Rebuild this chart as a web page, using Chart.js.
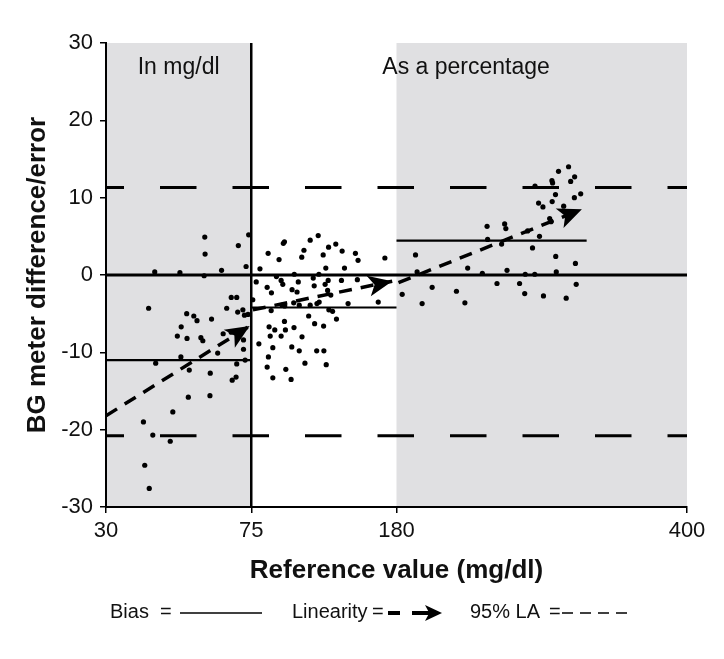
<!DOCTYPE html>
<html>
<head>
<meta charset="utf-8">
<script src="https://cdn.jsdelivr.net/npm/chart.js@4.4.1/dist/chart.umd.min.js"></script>
<style>
	html, body { margin: 0; padding: 0; background: #fff; }
	#wrap { width: 724px; height: 659px; position: relative; }
</style>
</head>
<body>
<div id="wrap"><canvas id="myChart"></canvas></div>
<script>
const FONT = "'Liberation Sans', Arial, Helvetica, sans-serif"

// x axis is piecewise: 30-75 and 75-180 take one slot each, 180-400 takes two
const tickLabels = [30, 75, 180, 400]
const tickSlots = [0, 1, 2, 4]

// reference value (mg/dl) and meter difference/error
const reference = [
	// below 75 (difference in mg/dl)
	60.6, 74.2, 71.0, 60.7, 73.4, 45.1, 52.9, 65.8, 60.4,
	43.2, 68.8, 70.5, 67.4, 72.4, 70.8, 72.9, 74.0,
	55.0, 57.2, 58.2, 62.7, 53.3, 52.1, 55.1, 59.4, 60.0,
	66.3, 68.8, 72.6, 64.6, 72.6, 53.2, 73.1, 45.4,
	55.8, 62.3, 70.5, 70.3, 69.1,
	55.5, 62.2, 50.7, 41.6, 44.5, 49.9, 42.0, 43.4,
	// 75 to 180 (percentage)
	81.3, 78.6, 80.5, 76.1, 99.0, 98.2, 117.6, 123.4, 87.2, 95.1,
	113.1, 111.5, 127.0, 130.9, 136.1, 140.7, 150.3, 152.2, 171.6, 128.9,
	142.4, 106.1, 123.9, 93.2, 96.6, 97.8, 109.0, 119.8, 120.5, 130.6,
	140.2, 151.7, 86.5, 89.6, 104.5, 108.1, 128.4, 130.2, 132.5, 97.3,
	99.2, 105.7, 109.7, 117.6, 122.5, 124.1, 145.0, 166.8, 89.4, 131.1,
	133.8, 116.5, 136.6, 99.0, 120.8, 127.3, 87.9, 92.0, 99.7, 105.9,
	88.7, 96.6, 111.7, 90.6, 104.3, 109.7, 122.3, 127.5, 87.4, 86.5,
	113.8, 129.2, 100.0, 90.6, 103.8,
	// above 180 (percentage)
	194.4, 195.6, 184.3, 199.4, 207.0, 225.4, 231.8, 233.9, 245.0, 248.6,
	249.0, 256.1, 259.6, 261.9, 262.8, 263.7, 273.2, 277.1, 277.5, 279.3,
	283.0, 284.7, 288.3, 291.3, 284.9, 287.6, 290.9, 296.0, 297.0, 297.7,
	298.2, 297.9, 300.4, 300.6, 301.0, 302.7, 306.6, 308.5, 310.3, 311.9,
	314.9, 314.7, 319.5, 315.5, 316.1,
]
const difference = [
	4.9, 5.2, 3.8, 2.7, 1.1, 0.4, 0.3, 0.6, -0.1,
	-4.3, -2.9, -2.9, -4.3, -4.5, -4.8, -5.2, -5.1,
	-5.0, -5.3, -5.9, -5.7, -6.7, -7.9, -8.2, -8.1, -8.5,
	-7.6, -7.4, -8.4, -10.1, -9.6, -10.6, -11.0, -11.4,
	-12.3, -12.7, -11.5, -13.2, -13.6,
	-15.8, -15.6, -17.7, -19.0, -20.7, -21.5, -24.6, -27.6,

	0.8, -0.9, -8.9, -3.2, 4.3, 4.1, 4.5, 5.1, 2.8, 2.0,
	3.2, 2.3, 2.6, 3.6, 4.0, 3.1, 2.8, 1.9, 2.2, 0.9,
	0.9, 0.1, 0.1, -0.2, -0.7, -1.2, -0.9, -0.4, -1.4, -0.7,
	-0.7, -0.6, -1.6, -2.3, -1.9, -2.2, -1.2, -2.0, -2.6, -3.9,
	-4.0, -3.6, -3.9, -3.9, -3.7, -3.5, -3.7, -3.5, -4.6, -4.5,
	-4.7, -5.3, -5.7, -6.0, -6.3, -6.6, -6.7, -7.1, -7.1, -6.8,
	-7.9, -7.9, -8.0, -9.4, -9.3, -9.8, -9.8, -9.8, -10.6, -11.9,
	-11.4, -11.6, -12.2, -13.3, -13.5,

	2.6, 0.4, -2.5, -3.7, -1.6, -2.1, -3.6, 0.9, 0.2, 6.3,
	4.6, -1.1, 4.0, 6.6, 6.0, 0.6, -1.1, -2.4, 0.1, 5.7,
	3.5, 0.1, 5.0, -2.7, 11.5, 9.3, 8.8, 7.3, 6.9, 12.2,
	11.9, 9.5, 10.4, 2.4, 0.4, 13.4, 8.9, -3.0, 14.0, 12.1,
	12.7, 10.0, 10.5, 1.5, -1.2,
]

// bias per range
const biasStart = [30, 75, 180]
const biasEnd = [75, 180, 324]
const biasValue = [-11.0, -4.2, 4.45]

// 95% limits of agreement
const limitsOfAgreement = [11.3, -20.8]

// linearity trend, one arrow per range
const linearityStart = [30, 76.2, 181.5]
const linearityStartValue = [-18.2, -4.5, -1.0]
const linearityEnd = [74.5, 176.9, 320.4]
const linearityEndValue = [-6.6, -0.8, 8.5]

const regionLabels = ['In mg/dl', 'As a percentage']

const toSlot = (mg) => {
	const last = tickLabels.length - 2
	for (let i = 0; i <= last; i++) {
		const a = tickLabels[i]
		const b = tickLabels[i + 1]
		if (mg <= b || i === last) {
			return tickSlots[i] + ((mg - a) / (b - a)) * (tickSlots[i + 1] - tickSlots[i])
		}
	}
}

const seg = (x0, y0, x1, y1) => [
	{ x: toSlot(x0), y: y0 },
	{ x: toSlot(x1), y: y1 },
]

const lineSet = (data, width, dash, offset) => ({
	type: 'scatter',
	data,
	showLine: true,
	borderColor: '#000',
	borderWidth: width,
	borderDash: dash || [],
	borderDashOffset: offset || 0,
	pointRadius: 0,
	pointHoverRadius: 0,
})

const datasets = [
	{
		type: 'scatter',
		data: reference.map((r, i) => ({ x: toSlot(r), y: difference[i] })),
		pointRadius: 2.6,
		pointBackgroundColor: '#000',
		pointBorderWidth: 0,
	},
	lineSet(seg(30, 0, 400, 0), 3),
	lineSet([{ x: toSlot(75), y: -30 }, { x: toSlot(75), y: 30 }], 2.5),
]
biasValue.forEach((v, i) => datasets.push(lineSet(seg(biasStart[i], v, biasEnd[i], v), 2.2)))
limitsOfAgreement.forEach((v) => datasets.push(lineSet(seg(30, v, 400, v), 3, [36.5, 36], 18.5)))
linearityStart.forEach((s, i) => {
	const d = lineSet(seg(s, linearityStartValue[i], linearityEnd[i], linearityEndValue[i]), 3.5, [13, 9])
	d.arrow = true
	datasets.push(d)
})

const drawArrowHead = (ctx, x, y, angle, len, half) => {
	ctx.save()
	ctx.translate(x, y)
	ctx.rotate(angle)
	ctx.beginPath()
	ctx.moveTo(0, 0)
	ctx.lineTo(-len, -half)
	ctx.lineTo(-len * 0.75, 0)
	ctx.lineTo(-len, half)
	ctx.closePath()
	ctx.fillStyle = '#000'
	ctx.fill()
	ctx.restore()
}

const shading = {
	id: 'shading',
	beforeDraw(chart) {
		const { ctx, chartArea, scales } = chart
		const x = scales.x
		ctx.save()
		ctx.fillStyle = '#e0e0e2'
		;[[30, 75], [180, 400]].forEach(([a, b]) => {
			const l = x.getPixelForValue(toSlot(a))
			const r = x.getPixelForValue(toSlot(b))
			ctx.fillRect(l, chartArea.top, r - l, chartArea.bottom - chartArea.top)
		})
		ctx.restore()
	},
}

const arrows = {
	id: 'arrows',
	afterDatasetsDraw(chart) {
		const { ctx } = chart
		chart.data.datasets.forEach((ds, i) => {
			if (!ds.arrow) return
			const pts = chart.getDatasetMeta(i).data
			const a = pts[pts.length - 2]
			const b = pts[pts.length - 1]
			drawArrowHead(ctx, b.x, b.y, Math.atan2(b.y - a.y, b.x - a.x), 24, 10.5)
		})
	},
}

const annotations = {
	id: 'annotations',
	afterDraw(chart) {
		const { ctx, chartArea, scales } = chart
		const x = scales.x
		ctx.save()
		ctx.fillStyle = '#111'
		ctx.font = `23px ${FONT}`
		ctx.textAlign = 'center'
		ctx.textBaseline = 'middle'
		const ty = chartArea.top + 25
		ctx.fillText(regionLabels[0], (x.getPixelForValue(toSlot(30)) + x.getPixelForValue(toSlot(75))) / 2, ty)
		ctx.fillText(regionLabels[1], (x.getPixelForValue(toSlot(75)) + x.getPixelForValue(toSlot(400))) / 2 - 3, ty)

		// legend row
		const ly = 612
		ctx.font = `20px ${FONT}`
		ctx.textAlign = 'left'
		ctx.fillText('Bias', 110, ly)
		ctx.fillText('=', 160, ly)
		ctx.fillText('Linearity', 292, ly)
		ctx.fillText('=', 372, ly)
		ctx.fillText('95% LA', 470, ly)
		ctx.fillText('=', 549, ly)

		ctx.strokeStyle = '#000'
		ctx.lineWidth = 1.5
		ctx.beginPath()
		ctx.moveTo(180, ly + 1)
		ctx.lineTo(262, ly + 1)
		ctx.stroke()

		ctx.lineWidth = 4
		ctx.beginPath()
		ctx.moveTo(388, ly + 1)
		ctx.lineTo(400, ly + 1)
		ctx.moveTo(412, ly + 1)
		ctx.lineTo(430, ly + 1)
		ctx.stroke()
		drawArrowHead(ctx, 442, ly + 1, 0, 17, 8)

		ctx.lineWidth = 1.5
		ctx.beginPath()
		for (let k = 0; k < 4; k++) {
			ctx.moveTo(562 + k * 18, ly + 1)
			ctx.lineTo(573 + k * 18, ly + 1)
		}
		ctx.stroke()
		ctx.restore()
	},
}

const ctx = document.getElementById('myChart').getContext('2d')
const myChart = new Chart(ctx, {
	type: 'scatter',
	data: { datasets },
	options: {
		responsive: true,
		maintainAspectRatio: false,
		animation: false,
		layout: {
			padding: { left: 0, right: 37, top: 43, bottom: 52 },
		},
		plugins: {
			legend: { display: false },
			tooltip: { enabled: false },
		},
		scales: {
			x: {
				type: 'linear',
				min: 0,
				max: 4,
				afterFit: (scale) => {
					scale.height = 100
				},
				afterBuildTicks: (scale) => {
					scale.ticks = tickSlots.map((v) => ({ value: v }))
				},
				ticks: {
					color: '#111',
					padding: 5,
					maxRotation: 0,
					font: { family: FONT, size: 22 },
					callback: (v) => tickLabels[tickSlots.indexOf(v)],
				},
				grid: {
					drawOnChartArea: false,
					color: '#000',
					lineWidth: 1.5,
					tickLength: 6,
				},
				border: { display: true, color: '#000', width: 2 },
				title: {
					display: true,
					text: 'Reference value (mg/dl)',
					color: '#111',
					font: { family: FONT, size: 26, weight: 'bold' },
					padding: { top: 0, bottom: 21 },
				},
			},
			y: {
				min: -30,
				max: 30,
				afterFit: (scale) => {
					scale.width = 106
				},
				ticks: {
					stepSize: 10,
					color: '#111',
					padding: 7,
					font: { family: FONT, size: 22 },
				},
				grid: {
					drawOnChartArea: false,
					color: '#000',
					lineWidth: 1.5,
					tickLength: 6,
				},
				border: { display: true, color: '#000', width: 2 },
				title: {
					display: true,
					text: 'BG meter difference/error',
					color: '#111',
					font: { family: FONT, size: 26, weight: 'bold' },
					padding: { top: 22, bottom: 0 },
				},
			},
		},
	},
	plugins: [shading, arrows, annotations],
})
</script>
</body>
</html>
